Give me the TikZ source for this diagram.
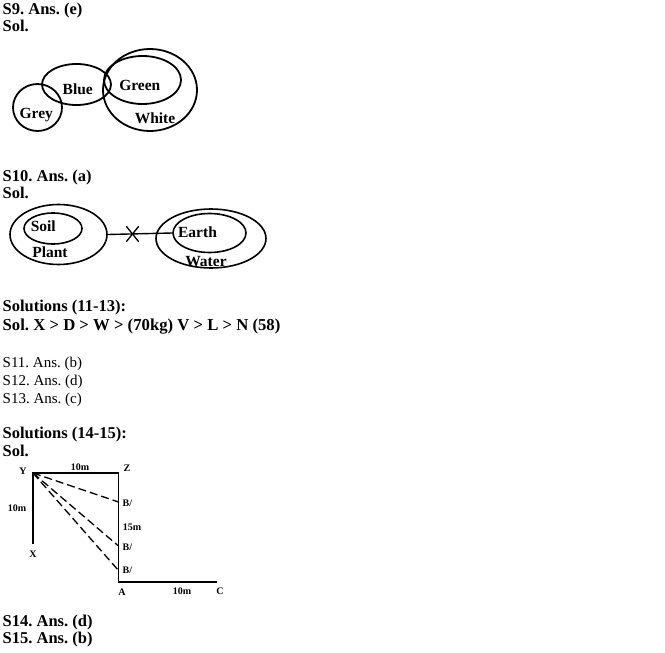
\documentclass[tikz,border=0pt]{standalone}
\usepackage{fontspec}
\setmainfont{Liberation Serif}
\usetikzlibrary{shapes.geometric}
\usetikzlibrary{shapes.misc}
\frenchspacing

\begin{document}
\begin{tikzpicture}[x=1pt,y=-1pt,inner sep=0pt]
\tikzstyle{ring}=[ellipse,draw=black,line width=1.8pt]
\tikzstyle{ringtxt}=[font=\bfseries\fontsize{15.5}{18}\selectfont,anchor=base]
\tikzstyle{headtxt}=[font=\bfseries\fontsize{16.5}{18}\selectfont,anchor=base west]
\tikzstyle{bigtxt}=[font=\bfseries\fontsize{16.7}{20}\selectfont,anchor=base west]
\tikzstyle{plaintxt}=[font=\fontsize{15}{18}\selectfont,anchor=base west]
\tikzstyle{tagtxt}=[font=\bfseries\fontsize{10}{10}\selectfont,text height=6.5pt,text depth=0pt]
\tikzstyle{leg}=[line width=1.8pt]
\tikzstyle{ray}=[line width=1.3pt,dash pattern=on 8pt off 4pt]
\useasboundingbox (0,0) rectangle (665,653);

% S9
\node[headtxt] (s9) at (2.5,14) {S9. Ans. (e)};
\node[headtxt] (sol9) at (2.5,31) {Sol.};
\node[ring,minimum width=49,minimum height=47] (grey) at (37.5,107.5) {};
\node[ring,minimum width=69,minimum height=41] (blue) at (76.5,84.5) {};
\node[ring,minimum width=77,minimum height=48] (green) at (142.5,80) {};
\node[ring,minimum width=94,minimum height=82] (white) at (150,90) {};
\node[ringtxt] (greytxt) at (36.3,118.3) {Grey};
\node[ringtxt] (bluetxt) at (77.8,94.3) {Blue};
\node[ringtxt] (greentxt) at (139.8,90) {Green};
\node[ringtxt] (whitetxt) at (155,123.3) {White};

% S10
\node[headtxt] (s10) at (2.5,181) {S10. Ans. (a)};
\node[headtxt] (sol10) at (2.5,198) {Sol.};
\node[ring,line width=1.6pt,minimum width=97,minimum height=60] (plant) at (58.5,234.5) {};
\node[ring,line width=1.6pt,minimum width=58,minimum height=31] (soil) at (53,228.5) {};
\node[ring,line width=1.6pt,minimum width=110,minimum height=59] (water) at (211,238.5) {};
\node[ring,line width=1.6pt,minimum width=73,minimum height=39] (earth) at (209.5,233) {};
\draw[line width=1.4pt] (plant.east) -- (earth.west);
\node[cross out,draw,line width=1.3pt,minimum width=11,minimum height=14] (cut) at (132.5,234) {};
\node[ringtxt] (soiltxt) at (43.3,231) {Soil};
\node[ringtxt] (planttxt) at (50,257.3) {Plant};
\node[ringtxt] (earthtxt) at (197.5,237.7) {Earth};
\node[ringtxt] (watertxt) at (206,266.7) {Water};

% S11-S13
\node[headtxt] (sol1113) at (2.5,311) {Solutions (11-13):};
\node[bigtxt] (order) at (2.5,330.7) {Sol. X > D > W > (70kg) V > L > N (58)};
\node[plaintxt] (s11) at (2.5,367.7) {S11. Ans. (b)};
\node[plaintxt] (s12) at (2.5,385.7) {S12. Ans. (d)};
\node[plaintxt] (s13) at (2.5,403.5) {S13. Ans. (c)};

% S14-S15
\node[headtxt] (sol1415) at (2.5,438.5) {Solutions (14-15):};
\node[headtxt] (sol14) at (2.5,456) {Sol.};
\coordinate (Y) at (33,473);
\coordinate (X) at (33,544);
\coordinate (Z) at (118.5,473);
\coordinate (A) at (118.5,582);
\coordinate (C) at (217,582);
\coordinate (B1) at (118.5,502);
\coordinate (B2) at (118.5,546);
\coordinate (B3) at (118.5,570.5);
\draw[leg] (X) -- (Y) -- (Z) -- (A) -- (C);
\draw[ray] (Y) -- (B1);
\draw[ray] (Y) -- (B2);
\draw[ray] (Y) -- (B3);
\node[tagtxt] (ytxt) at (23,471) {Y};
\node[tagtxt] (xtxt) at (33,554) {X};
\node[tagtxt] (ztxt) at (127,468) {Z};
\node[tagtxt] (atxt) at (122,592) {A};
\node[tagtxt] (ctxt) at (220,591) {C};
\node[tagtxt] (yz) at (80,467) {10m};
\node[tagtxt] (yx) at (17,508) {10m};
\node[tagtxt] (ac) at (182,591) {10m};
\node[tagtxt] (zb) at (132,527) {15m};
\node[tagtxt,anchor=west] (b1txt) at (122.5,503) {B/};
\node[tagtxt,anchor=west] (b2txt) at (122.5,547) {B/};
\node[tagtxt,anchor=west] (b3txt) at (122.5,570) {B/};

\node[headtxt] (s14) at (2.5,626.5) {S14. Ans. (d)};
\node[headtxt] (s15) at (2.5,643.7) {S15. Ans. (b)};
\end{tikzpicture}
\end{document}
